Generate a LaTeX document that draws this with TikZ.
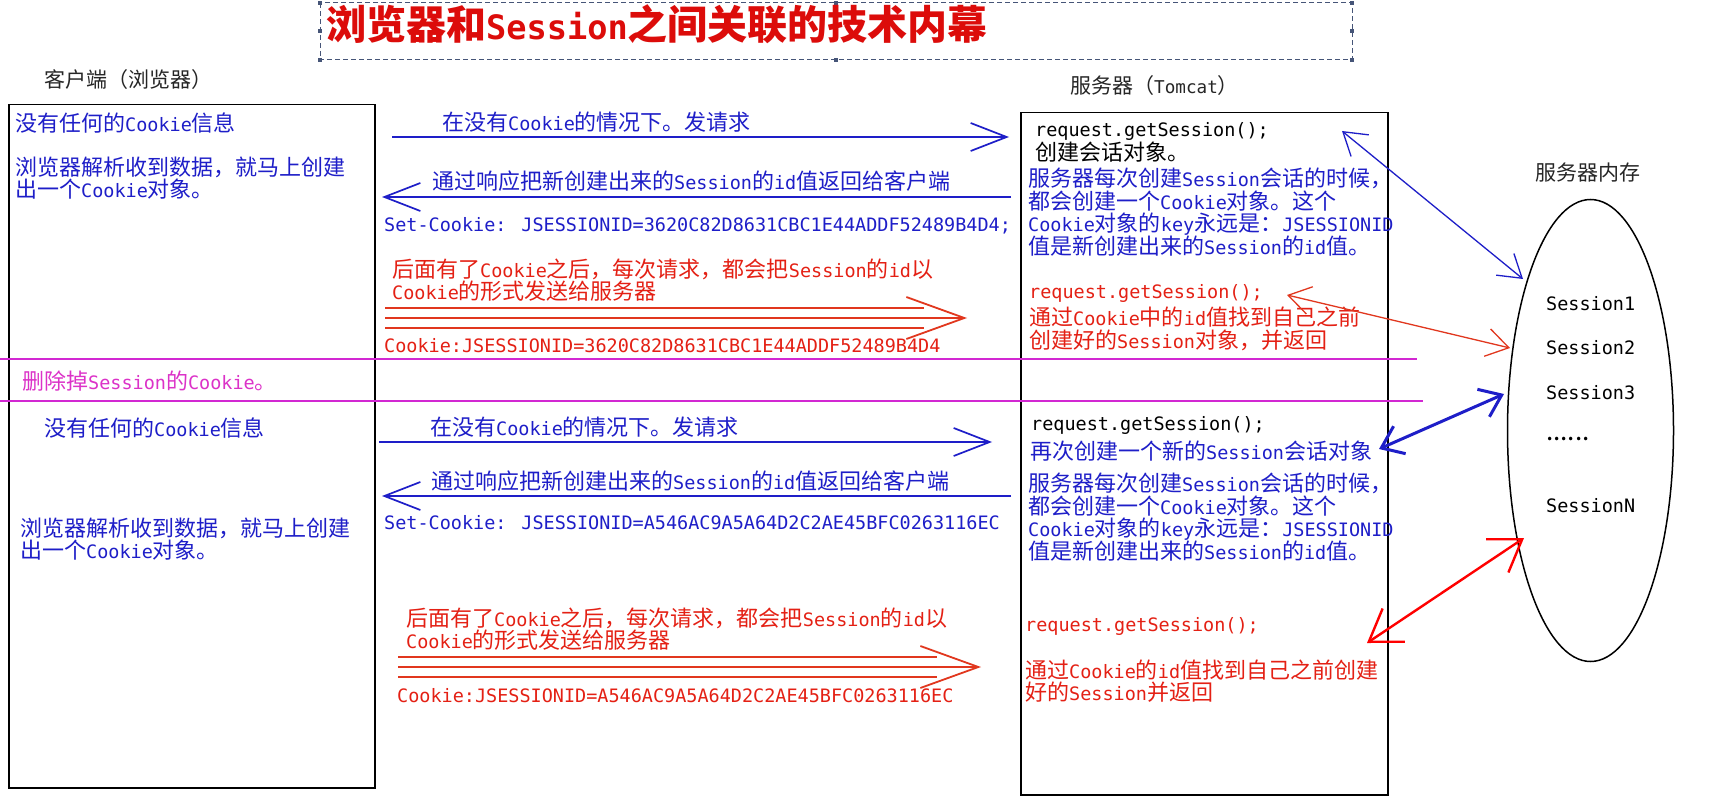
\documentclass[tikz,border=0pt]{standalone}
\usepackage{fontspec}
\usetikzlibrary{arrows.meta,shapes.geometric}
\setmainfont{DejaVu Sans Mono}[Scale=0.84]
\newfontfamily\cjkf{Noto Sans CJK SC}
\newfontfamily\latf{DejaVu Sans Mono}[Scale=0.84]
\XeTeXinterchartokenstate=1
\chardef\mycjk=7
\count255="3000
\loop \XeTeXcharclass\count255=\mycjk \ifnum\count255<"303F \advance\count255 by 1 \repeat
\count255="4E00
\loop \XeTeXcharclass\count255=\mycjk \ifnum\count255<"9FFF \advance\count255 by 1 \repeat
\count255="FF00
\loop \XeTeXcharclass\count255=\mycjk \ifnum\count255<"FFEF \advance\count255 by 1 \repeat
\XeTeXinterchartoks 0 \mycjk = {\cjkf}
\XeTeXinterchartoks 4095 \mycjk = {\cjkf}
\XeTeXinterchartoks \mycjk 0 = {\latf}
\XeTeXinterchartoks \mycjk 4095 = {\latf}
\definecolor{myblue}{RGB}{30,30,200}
\definecolor{myred}{RGB}{228,32,20}
\definecolor{linered}{RGB}{225,55,30}
\definecolor{titlered}{RGB}{220,12,10}
\definecolor{mymag}{RGB}{210,40,210}
\definecolor{magtxt}{RGB}{220,50,200}
\definecolor{boxgray}{RGB}{70,85,120}
\tikzset{
  txt/.style={anchor=west, inner sep=0pt, align=left, font=\fontsize{22}{22.5}\selectfont},
  bt/.style={txt, text=myblue},
  rt/.style={txt, text=myred},
  kt/.style={txt, text=black},
  hdr/.style={txt, text=black!85, font=\fontsize{21}{22}\selectfont},
  frame/.style={draw=black, line width=1.5pt, inner sep=0pt, anchor=north west},
  barb/.tip={Straight Barb[length=36pt,width=28pt]},
  bigbarb/.tip={Straight Barb[length=58pt,width=42pt]},
  smallbarb/.tip={Straight Barb[length=22pt,width=28pt]},
  barrow/.style={draw=myblue, line width=1.7pt, -barb},
  rline/.style={draw=linered, line width=1.8pt},
  hd/.style={fill=boxgray, inner sep=0pt, minimum size=4pt},
}
\begin{document}
\begin{tikzpicture}[x=1pt,y=-1pt]
\useasboundingbox[fill=white] (0,0) rectangle (1721,805);

% title
\draw[boxgray, line width=1pt, dash pattern=on 5pt off 3pt] (320,3) rectangle (1352,60);
\foreach \p/\n in {{(320,3)}/h1,{(836,3)}/h2,{(1352,3)}/h3,{(320,31)}/h4,{(1352,31)}/h5,{(320,60)}/h6,{(836,60)}/h7,{(1352,60)}/h8}
  \node[hd] (\n) at \p {};
\node[txt, text=titlered, font=\fontsize{40}{40}\selectfont\bfseries] (title) at (326,24) {浏览器和Session之间关联的技术内幕};

% headers
\node[hdr] (client) at (44,80) {客户端（浏览器）};
\node[hdr] (server) at (1070,86) {服务器（Tomcat）};
\node[hdr, anchor=center] (memlbl) at (1588,173) {服务器内存};

% frames
\node[frame, minimum width=366pt, minimum height=683pt] (cbox) at (8,104) {};
\node[frame, minimum width=367pt, minimum height=682pt] (sbox) at (1020,112) {};
\node[draw=black, line width=1.5pt, ellipse, minimum width=166pt, minimum height=462pt, inner sep=0pt] (mem) at (1590.5,430.5) {};

% client texts
\node[bt] (c1) at (15,123) {没有任何的Cookie信息};
\node[bt] (c2) at (15,178) {浏览器解析收到数据，就马上创建\\出一个Cookie对象。};
\node[txt, text=magtxt] (del) at (22,381) {删除掉Session的Cookie。};
\node[bt] (c3) at (44,428) {没有任何的Cookie信息};
\node[bt] (c4) at (20,539) {浏览器解析收到数据，就马上创建\\出一个Cookie对象。};

% middle upper
\node[bt] (m1) at (442,122) {在没有Cookie的情况下。发请求};
\node[bt] (m2) at (432,181) {通过响应把新创建出来的Session的id值返回给客户端};
\node[bt] (m3) at (384,226) {Set-Cookie: JSESSIONID=3620C82D8631CBC1E44ADDF52489B4D4;};
\node[rt] (m4) at (392,280) {后面有了Cookie之后，每次请求，都会把Session的id以\\Cookie的形式发送给服务器};
\node[rt] (m5) at (384,346) {Cookie:JSESSIONID=3620C82D8631CBC1E44ADDF52489B4D4};

% middle lower
\node[bt] (n1) at (430,427) {在没有Cookie的情况下。发请求};
\node[bt] (n2) at (431,481) {通过响应把新创建出来的Session的id值返回给客户端};
\node[bt] (n3) at (384,523) {Set-Cookie: JSESSIONID=A546AC9A5A64D2C2AE45BFC0263116EC};
\node[rt] (n4) at (406,629) {后面有了Cookie之后，每次请求，都会把Session的id以\\Cookie的形式发送给服务器};
\node[rt] (n5) at (397,696) {Cookie:JSESSIONID=A546AC9A5A64D2C2AE45BFC0263116EC};

% server upper
\node[kt] (s1) at (1035,131) {request.getSession();};
\node[kt] (s2) at (1035,152) {创建会话对象。};
\node[bt] (s3) at (1028,212) {服务器每次创建Session会话的时候，\\都会创建一个Cookie对象。这个\\Cookie对象的key永远是：JSESSIONID\\值是新创建出来的Session的id值。};
\node[rt] (s4) at (1029,293) {request.getSession();};
\node[rt] (s5) at (1029,329) {通过Cookie中的id值找到自己之前\\创建好的Session对象，并返回};

% server lower
\node[kt] (t1) at (1031,425) {request.getSession();};
\node[bt] (t2) at (1030,451) {再次创建一个新的Session会话对象};
\node[bt] (t3) at (1028,517) {服务器每次创建Session会话的时候，\\都会创建一个Cookie对象。这个\\Cookie对象的key永远是：JSESSIONID\\值是新创建出来的Session的id值。};
\node[rt] (t4) at (1025,626) {request.getSession();};
\node[rt] (t5) at (1025,681) {通过Cookie的id值找到自己之前创建\\好的Session并返回};

% memory sessions
\node[kt] (se1) at (1546,304) {Session1};
\node[kt] (se2) at (1546,348) {Session2};
\node[kt] (se3) at (1546,393) {Session3};
\node[txt, text=black, font=\cjkf\fontsize{26}{26}\selectfont] (sed) at (1546,439) {......};
\node[kt] (seN) at (1546,506) {SessionN};

% magenta separators
\coordinate (g1a) at (0,359); \coordinate (g1b) at (1417,359);
\coordinate (g2a) at (0,401); \coordinate (g2b) at (1423,401);
\draw[mymag, line width=2.8pt] (g1a) -- (g1b);
\draw[mymag, line width=2.8pt] (g2a) -- (g2b);

% blue request/response arrows
\coordinate (a1s) at (392,137); \coordinate (a1e) at (1009,137);
\coordinate (a2s) at (1011,197); \coordinate (a2e) at (382,197);
\coordinate (b1s) at (379,442); \coordinate (b1e) at (992,442);
\coordinate (b2s) at (1011,496); \coordinate (b2e) at (382,496);
\draw[barrow] (a1s) -- (a1e);
\draw[barrow] (a2s) -- (a2e);
\draw[barrow] (b1s) -- (b1e);
\draw[barrow] (b2s) -- (b2e);

% red triple arrows
\coordinate (r1s) at (385,318); \coordinate (r1e) at (967,318);
\coordinate (r1ta) at (385,308); \coordinate (r1tb) at (924,308);
\coordinate (r1ba) at (385,328); \coordinate (r1bb) at (924,328);
\draw[rline] (r1ta) -- (r1tb);
\draw[rline] (r1ba) -- (r1bb);
\draw[rline, -bigbarb] (r1s) -- (r1e);
\coordinate (r2s) at (398,667); \coordinate (r2e) at (981,667);
\coordinate (r2ta) at (398,657); \coordinate (r2tb) at (937,657);
\coordinate (r2ba) at (398,677); \coordinate (r2bb) at (937,677);
\draw[rline] (r2ta) -- (r2tb);
\draw[rline] (r2ba) -- (r2bb);
\draw[rline, -bigbarb] (r2s) -- (r2e);

% server <-> memory
\coordinate (k1a) at (1342,131); \coordinate (k1b) at (1523,279);
\coordinate (k2a) at (1287,295); \coordinate (k2b) at (1510,348);
\coordinate (k3a) at (1379,449); \coordinate (k3b) at (1504,394);
\coordinate (k4a) at (1367,643); \coordinate (k4b) at (1524,538);
\draw[myblue, line width=1.3pt, smallbarb-smallbarb] (k1a) -- (k1b);
\draw[linered, line width=1.3pt, smallbarb-smallbarb] (k2a) -- (k2b);
\draw[myblue, line width=3pt, {Straight Barb[length=20pt,width=30pt]}-{Straight Barb[length=20pt,width=30pt]}] (k3a) -- (k3b);
\draw[red, line width=2.4pt, {Straight Barb[length=30pt,width=40pt]}-{Straight Barb[length=30pt,width=40pt]}] (k4a) -- (k4b);
\end{tikzpicture}
\end{document}
